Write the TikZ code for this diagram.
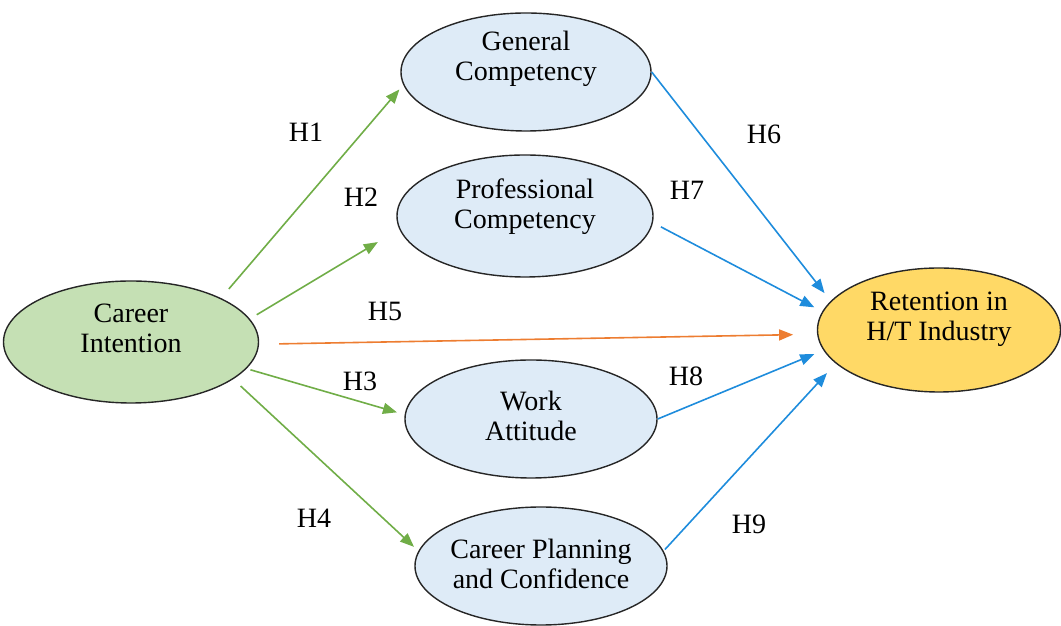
\documentclass[tikz,border=0pt]{standalone}
\usepackage{fontspec}
\IfFontExistsTF{LiberationSerif-Regular.ttf}
  {\setmainfont{LiberationSerif-Regular.ttf}}
  {\setmainfont{DejaVu Serif}}
\usetikzlibrary{shapes,positioning,arrows.meta}
\definecolor{ciFill}{HTML}{C5E0B4}
\definecolor{midFill}{HTML}{DEEBF7}
\definecolor{retFill}{HTML}{FFD966}
\definecolor{hGreen}{HTML}{70AD47}
\definecolor{hOrange}{HTML}{ED7D31}
\definecolor{hBlue}{RGB}{30,140,220}
\tikzset{>={Triangle[length=14pt,width=11pt]}, % filled triangle heads
node distance=100pt, on grid, % centre to centre placement
every label/.style={align=center}, % two-line texts inside the ellipses
construct/.style={ellipse, draw=black!85, line width=1.4pt, inner sep=0pt}, % sets the look of each variable
garrow/.style={->, draw=hGreen, line width=1.6pt}, % paths out of career intention
oarrow/.style={->, draw=hOrange, line width=1.6pt}, % the direct path
barrow/.style={->, draw=hBlue, line width=1.6pt}, % paths into retention
}

\begin{document}
\begin{tikzpicture}[x=1pt, y=1pt, font=\fontsize{28}{30}\selectfont]
\useasboundingbox (0,0) rectangle (1061,626);
\node[construct, fill=ciFill, minimum width=255pt, minimum height=122pt,
  label={[yshift=14pt]center:Career\\Intention}] (ci) at (131,284) {};
\node[construct, fill=midFill, minimum width=250pt, minimum height=118pt,
  label={[yshift=13pt]center:General\\Competency}, above right=270pt and 395pt of ci] (gc) {};
\node[construct, fill=midFill, minimum width=256pt, minimum height=122pt,
  label={[yshift=9pt]center:Professional\\Competency}, above right=126pt and 394pt of ci] (pc) {};
\node[construct, fill=midFill, minimum width=252pt, minimum height=118pt,
  label={[yshift=3pt]center:Work\\Attitude}, below right=77pt and 400pt of ci] (wa) {};
\node[construct, fill=midFill, minimum width=252pt, minimum height=118pt,
  label={[yshift=2pt]center:Career Planning\\and Confidence}, below right=224pt and 410pt of ci] (cp) {};
\node[construct, fill=retFill, minimum width=243pt, minimum height=124pt,
  label={[yshift=11pt]center:Retention in\\H/T Industry}, above right=12pt and 808pt of ci] (rt) {};

% hypotheses
\draw (ci.26) edge[garrow, shorten <=12pt, shorten >=6pt] (gc.186)
(ci.11) edge[garrow, shorten <=8pt, shorten >=25pt] (pc.186)
(ci.-1) edge[oarrow, shorten <=20pt, shorten >=24pt] (rt.182)
(ci.-13) edge[garrow, shorten <=4pt, shorten >=8pt] (wa.178)
(ci.-20) edge[garrow, shorten <=10pt, shorten >=6pt] (cp.173)
(gc.0) edge[barrow, shorten >=10pt] (rt.165)
(pc.-3) edge[barrow, shorten <=9pt, shorten >=9pt] (rt.171)
(wa.0) edge[barrow, shorten >=10pt] (rt.190)
(cp.7) edge[barrow, shorten <=2pt, shorten >=13pt] (rt.198);

\node (h1) at (306,494) {H1};
\node (h2) at (361,429) {H2};
\node (h5) at (385,315) {H5};
\node (h3) at (360,245) {H3};
\node (h4) at (314,108) {H4};
\node (h6) at (764,492) {H6};
\node (h7) at (687,436) {H7};
\node (h8) at (686,250) {H8};
\node (h9) at (749,102) {H9};
\end{tikzpicture}
\end{document}
